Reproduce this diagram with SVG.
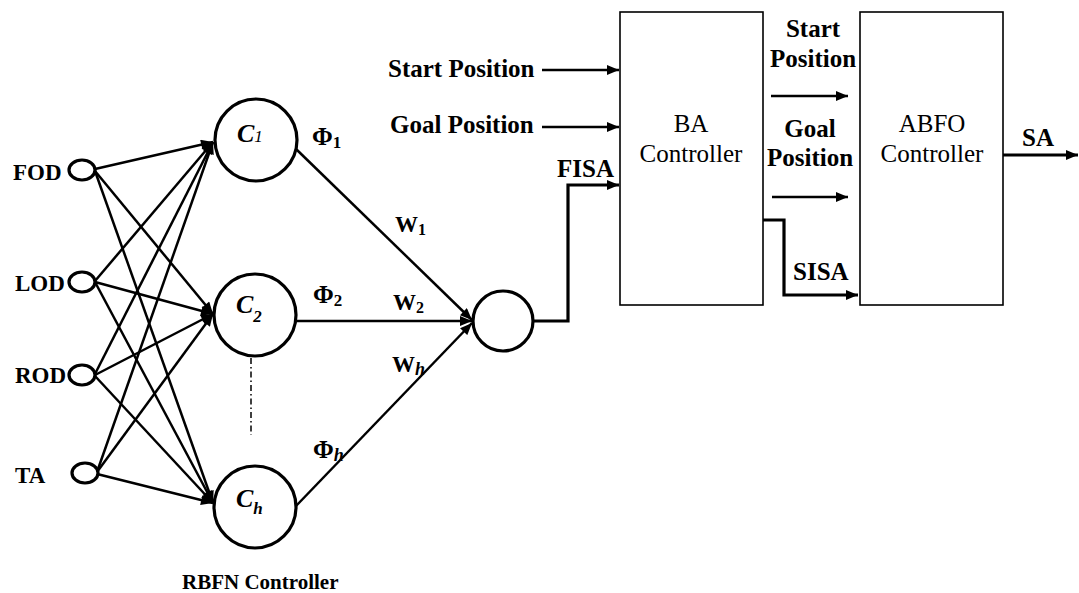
<svg xmlns="http://www.w3.org/2000/svg" width="1079" height="593" viewBox="0 0 1079 593">
  <defs>
    <marker id="ah" viewBox="0 0 12 10" refX="12" refY="5" markerWidth="13" markerHeight="10" markerUnits="userSpaceOnUse" orient="auto">
      <path d="M0,0 L12,5 L0,10 z" fill="#000"/>
    </marker>
    <style>
      .lbl { font-family: "Liberation Serif", "DejaVu Serif", serif; font-weight: bold; fill: #000; }
      .reg { font-family: "Liberation Serif", "DejaVu Serif", serif; font-size: 25px; fill: #000; }
      .node { fill: #fff; stroke: #000; stroke-width: 3.2; }
      .box { fill: #fff; stroke: #000; stroke-width: 1.6; }
      .w { fill: none; stroke: #000; stroke-width: 2.5; marker-end: url(#ah); }
      .bus { fill: none; stroke: #000; stroke-width: 3.2; marker-end: url(#ah); }
      .ci { font-family: "Liberation Serif", "DejaVu Serif", serif; font-style: italic; font-weight: bold; fill: #000; }
    </style>
  </defs>
  <rect width="1079" height="593" fill="#fff"/>

  <!-- connectors -->
  <g id="connectors">
    <!-- input layer to hidden layer -->
    <line class="w" x1="95" y1="169" x2="213" y2="142"/>
    <line class="w" x1="95" y1="171" x2="213" y2="314"/>
    <line class="w" x1="95" y1="171" x2="213" y2="503"/>
    <line class="w" x1="95" y1="281" x2="213" y2="142"/>
    <line class="w" x1="95" y1="282" x2="213" y2="314"/>
    <line class="w" x1="95" y1="282" x2="213" y2="503"/>
    <line class="w" x1="95" y1="374" x2="213" y2="142"/>
    <line class="w" x1="95" y1="375" x2="213" y2="314"/>
    <line class="w" x1="95" y1="376" x2="213" y2="503"/>
    <line class="w" x1="97" y1="472" x2="213" y2="142"/>
    <line class="w" x1="97" y1="472" x2="213" y2="314"/>
    <line class="w" x1="97" y1="474" x2="213" y2="503"/>
    <!-- hidden layer to output node -->
    <line class="w" x1="296" y1="149" x2="472" y2="320"/>
    <line class="w" x1="297" y1="321" x2="472" y2="321"/>
    <line class="w" x1="296" y1="506" x2="472" y2="323"/>
    <!-- dash-dot continuation between C2 and Ch -->
    <line x1="251" y1="358" x2="251" y2="435" stroke="#000" stroke-width="1.5" stroke-dasharray="6,3,1.5,3"/>
    <!-- FISA -->
    <polyline class="bus" points="533,321 568,321 568,185 619,185"/>
    <!-- position inputs to BA -->
    <line class="w" x1="542" y1="70" x2="619" y2="70"/>
    <line class="w" x1="542" y1="127" x2="619" y2="127"/>
    <!-- BA to ABFO -->
    <line class="w" x1="771" y1="96" x2="848" y2="96"/>
    <line class="w" x1="772" y1="197" x2="848" y2="197"/>
    <polyline class="bus" points="763,220 784,220 784,295 858,295"/>
    <!-- SA output -->
    <line class="bus" x1="1003" y1="155" x2="1078" y2="155"/>
  </g>

  <!-- input nodes -->
  <g id="in-fod">
    <ellipse class="node" cx="82" cy="170" rx="13" ry="10"/>
    <text class="lbl" x="13" y="180" font-size="23">FOD</text>
  </g>
  <g id="in-lod">
    <ellipse class="node" cx="82" cy="282" rx="13" ry="10"/>
    <text class="lbl" x="15" y="291" font-size="23">LOD</text>
  </g>
  <g id="in-rod">
    <ellipse class="node" cx="82" cy="375" rx="13" ry="10"/>
    <text class="lbl" x="15" y="383" font-size="23">ROD</text>
  </g>
  <g id="in-ta">
    <ellipse class="node" cx="85" cy="473" rx="13" ry="10"/>
    <text class="lbl" x="15" y="483" font-size="23">TA</text>
  </g>

  <!-- hidden (RBF) nodes -->
  <g id="c1">
    <circle class="node" cx="256" cy="140" r="41"/>
    <text class="ci" x="237" y="142" font-size="26">C<tspan font-size="17" font-weight="normal">1</tspan></text>
    <text class="lbl" x="312" y="145" font-size="25">Φ<tspan font-size="17" dy="3">1</tspan></text>
  </g>
  <g id="c2">
    <circle class="node" cx="255" cy="315" r="41"/>
    <text class="ci" x="236" y="313" font-size="26">C<tspan font-size="17" dy="9">2</tspan></text>
    <text class="lbl" x="313" y="303" font-size="25">Φ<tspan font-size="17" dy="3">2</tspan></text>
  </g>
  <g id="ch">
    <circle class="node" cx="255" cy="507" r="41"/>
    <text class="ci" x="236" y="507" font-size="26">C<tspan font-size="17" dy="7">h</tspan></text>
    <text class="lbl" x="313" y="458" font-size="25">Φ<tspan font-size="18" dy="3" font-style="italic">h</tspan></text>
  </g>

  <!-- weight labels -->
  <g id="weights">
    <text class="lbl" x="395" y="232" font-size="23">W<tspan font-size="16" dy="3">1</tspan></text>
    <text class="lbl" x="393" y="310" font-size="23">W<tspan font-size="16" dy="3">2</tspan></text>
    <text class="lbl" x="392" y="372" font-size="23">W<tspan font-size="18" dy="3" font-style="italic">h</tspan></text>
  </g>

  <!-- output node -->
  <g id="out">
    <circle class="node" cx="503" cy="321" r="30"/>
  </g>
  <g id="rbfn-caption">
    <text class="lbl" x="182" y="589" font-size="21">RBFN Controller</text>
  </g>

  <!-- BA controller -->
  <g id="ba">
    <rect class="box" x="620" y="12" width="143" height="293"/>
    <text class="reg" x="691" y="132" text-anchor="middle">BA</text>
    <text class="reg" x="691" y="162" text-anchor="middle">Controller</text>
  </g>

  <!-- ABFO controller -->
  <g id="abfo">
    <rect class="box" x="860" y="12" width="143" height="293"/>
    <text class="reg" x="932" y="132" text-anchor="middle">ABFO</text>
    <text class="reg" x="932" y="162" text-anchor="middle">Controller</text>
  </g>

  <!-- signal labels -->
  <g id="labels">
    <text class="lbl" x="388" y="77" font-size="25">Start Position</text>
    <text class="lbl" x="390" y="133" font-size="25">Goal Position</text>
    <text class="lbl" x="557" y="177" font-size="25">FISA</text>
    <text class="lbl" x="813" y="37" font-size="25" text-anchor="middle">Start</text>
    <text class="lbl" x="813" y="67" font-size="25" text-anchor="middle">Position</text>
    <text class="lbl" x="810" y="137" font-size="25" text-anchor="middle">Goal</text>
    <text class="lbl" x="810" y="166" font-size="25" text-anchor="middle">Position</text>
    <text class="lbl" x="793" y="280" font-size="25">SISA</text>
    <text class="lbl" x="1022" y="146" font-size="25">SA</text>
  </g>
</svg>
